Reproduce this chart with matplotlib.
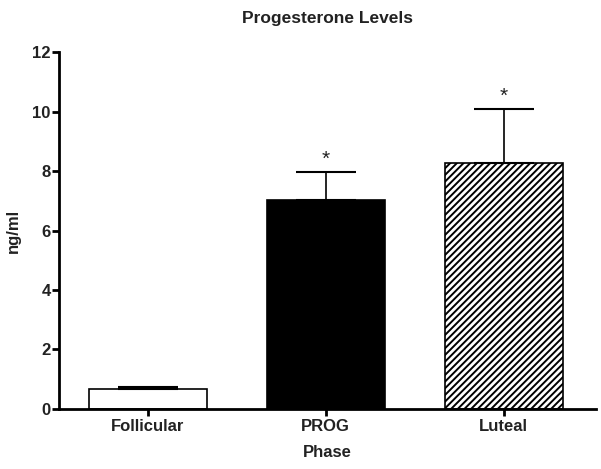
import matplotlib
matplotlib.use("Agg")
import matplotlib.pyplot as plt

categories = ["Follicular", "PROG", "Luteal"]
means = [0.68, 7.03, 8.28]
errors = [0.05, 0.94, 1.79]
stars = ["", "*", "*"]

plt.rcParams['font.family'] = ['Liberation Sans', 'DejaVu Sans']
plt.rcParams['hatch.linewidth'] = 1.4

fig = plt.figure(figsize=(6.01, 4.69), dpi=100)
ax = fig.add_axes([0.098, 0.128, 0.894, 0.761])

x = list(range(len(categories)))
fills = ["white", "black", "white"]
hatches = [None, None, "/////"]
for xi, m, e, fc, h in zip(x, means, errors, fills, hatches):
    ax.bar(xi, m, width=0.663, color=fc, edgecolor="black", linewidth=1.2,
           hatch=h, zorder=2)
    ax.errorbar(xi, m, yerr=[[0], [e]], fmt="none", ecolor="black",
                elinewidth=1.2, capsize=21.6, capthick=1.5, zorder=3)

for xi, m, e, s in zip(x, means, errors, stars):
    if s:
        ax.text(xi, m + e + 0.12, s, ha="center", va="bottom", fontsize=15,
                color="#222222")

ax.set_xlim(-0.5, 2.52)
ax.set_ylim(0, 12)
ax.set_yticks([0, 2, 4, 6, 8, 10, 12])
ax.set_xticks(x)
ax.set_xticklabels(categories)
for sp in ["top", "right"]:
    ax.spines[sp].set_visible(False)
for sp in ["left", "bottom"]:
    ax.spines[sp].set_linewidth(2)
ax.tick_params(axis="both", direction="out", width=2, length=5, labelsize=12)
ax.tick_params(axis="x", pad=2)
ax.tick_params(axis="y", pad=1)
for lbl in ax.get_xticklabels() + ax.get_yticklabels():
    lbl.set_fontweight("bold")
    lbl.set_color("#222222")

ax.set_ylabel("ng/ml", fontsize=12, fontweight="bold", labelpad=8, color="#222222")
ax.set_xlabel("Phase", fontsize=12, fontweight="bold", labelpad=8, color="#222222")
ax.set_title("Progesterone Levels", fontsize=12.5, fontweight="bold", pad=21,
             color="#222222")

fig.savefig("out.png", dpi=100)
